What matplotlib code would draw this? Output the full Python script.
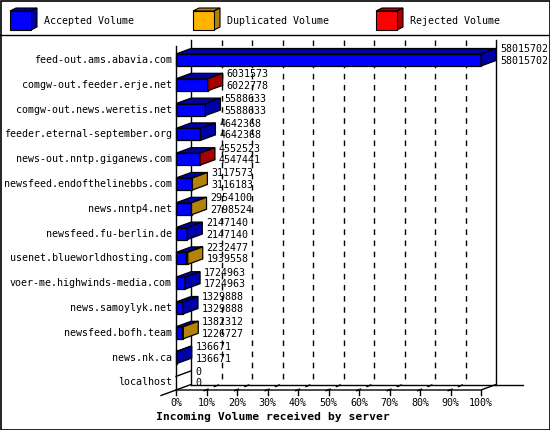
import matplotlib
matplotlib.use("Agg")
import matplotlib.pyplot as plt
from matplotlib.patches import Polygon, Rectangle

hosts = ["feed-out.ams.abavia.com", "comgw-out.feeder.erje.net",
         "comgw-out.news.weretis.net", "feeder.eternal-september.org",
         "news-out.nntp.giganews.com", "newsfeed.endofthelinebbs.com",
         "news.nntp4.net", "newsfeed.fu-berlin.de",
         "usenet.blueworldhosting.com", "voer-me.highwinds-media.com",
         "news.samoylyk.net", "newsfeed.bofh.team", "news.nk.ca", "localhost"]
offered = [58015702, 6031573, 5588633, 4642368, 4552523, 3117573, 2954100,
           2147140, 2232477, 1724963, 1329888, 1382312, 136671, 0]
accepted = [58015702, 6022778, 5588633, 4642368, 4547441, 3116183, 2798524,
            2147140, 1939558, 1724963, 1329888, 1226727, 136671, 0]
duplicated = [0, 0, 0, 0, 0, 1390, 155576, 0, 292919, 0, 0, 155585, 0, 0]
rejected = [0, 8795, 0, 0, 5082, 0, 0, 0, 0, 0, 0, 0, 0, 0]
pct_ticks = [0, 10, 20, 30, 40, 50, 60, 70, 80, 90, 100]

series = [("Accepted Volume", accepted, "#0000ff", "#0000a8"),
          ("Duplicated Volume", duplicated, "#ffb400", "#b4820a"),
          ("Rejected Volume", rejected, "#ff0000", "#a80000")]

mono = "DejaVu Sans Mono"
fs = 7.2

fig = plt.figure(figsize=(5.5, 4.3), dpi=100)

# background / frame / legend in pixel coordinates
bg = fig.add_axes([0, 0, 1, 1])
bg.set_xlim(0, 550)
bg.set_ylim(430, 0)
bg.axis("off")
bg.add_patch(Rectangle((0.5, 0.5), 549, 429, fill=False, ec="black", lw=1.2))
bg.plot([0, 550], [35, 35], color="black", lw=1)
for (lab, _, front, dark), lx in zip(series, [10, 193, 376]):
    bg.add_patch(Polygon([(lx, 11), (lx + 21, 11), (lx + 27, 8), (lx + 6, 8)],
                         fc=dark, ec="black", lw=0.8))
    bg.add_patch(Polygon([(lx + 21, 11), (lx + 27, 8), (lx + 27, 27), (lx + 21, 30)],
                         fc=dark, ec="black", lw=0.8))
    bg.add_patch(Rectangle((lx, 11), 21, 19, fc=front, ec="black", lw=0.8))
    bg.text(lx + 34, 20.5, lab, family=mono, fontsize=fs, va="center", ha="left")
bg.text(156, 417, "Incoming Volume received by server", family=mono,
        fontsize=8.2, weight="bold", va="center", ha="left")

# main chart: front plane 0..vmax, rows in index units
vmax = max(offered)
row0, row_px = 60.0, 24.8
top_px, floor_px = 40.0, 390.0
ax = fig.add_axes([176 / 550, 1 - floor_px / 430, 305 / 550, (floor_px - top_px) / 430])
ax.set_xlim(0, vmax)
y_top = (top_px - row0) / row_px
y_floor = (floor_px - row0) / row_px
ax.set_ylim(y_floor, y_top)
ax.axis("off")
ax.patch.set_visible(False)

DX = 15 / 305 * vmax
DY = 5.5 / row_px
h = 6 / row_px
y_back = y_floor - DY
kw = dict(clip_on=False, lw=1, color="black")

# back wall and grid
ax.plot([DX, DX], [y_top, y_back], **kw)
ax.plot([vmax + DX, vmax + DX], [y_top, y_back], **kw)
for p in pct_ticks[1:-1]:
    x = vmax * p / 100 + DX
    ax.plot([x, x], [y_top, y_back], ls=(0, (4, 4)), **kw)
ax.plot([DX, vmax + DX + 27 / 305 * vmax], [y_back, y_back], **kw)

# bars
for i, host in enumerate(hosts):
    x0 = 0
    last_dark = None
    for lab, vals, front, dark in series:
        v = vals[i]
        if v <= 0:
            continue
        x1 = x0 + v
        ax.add_patch(Polygon([(x0, i - h), (x1, i - h), (x1 + DX, i - h - DY), (x0 + DX, i - h - DY)],
                             fc=dark, ec="black", lw=0.9, clip_on=False, zorder=3))
        ax.add_patch(Polygon([(x0, i - h), (x1, i - h), (x1, i + h), (x0, i + h)],
                             fc=front, ec="black", lw=0.9, clip_on=False, zorder=3))
        x0 = x1
        last_dark = dark
    if last_dark is not None:
        ax.add_patch(Polygon([(x0, i - h), (x0 + DX, i - h - DY), (x0 + DX, i + h - DY), (x0, i + h)],
                             fc=last_dark, ec="black", lw=0.9, clip_on=False, zorder=3))
    else:
        ax.plot([0, DX], [i - h, i - h - DY], zorder=3, **kw)
    ax.annotate(host, (0, i), xytext=(-4, 0), textcoords="offset pixels",
                ha="right", va="center", family=mono, fontsize=fs, annotation_clip=False)
    ax.annotate(str(offered[i]), (offered[i] + DX, i), xytext=(4, 10.5),
                textcoords="offset pixels", ha="left", va="center",
                family=mono, fontsize=fs, annotation_clip=False)
    ax.annotate(str(accepted[i]), (offered[i] + DX, i), xytext=(4, -1),
                textcoords="offset pixels", ha="left", va="center",
                family=mono, fontsize=fs, annotation_clip=False)

# front axis lines and floor
ax.plot([0, 0], [y_floor, y_top + DY + 0.0], zorder=4, **kw)
ax.plot([0, vmax, vmax + DX], [y_floor, y_floor, y_back], zorder=4, **kw)
ax.plot([-DX, DX], [y_floor + DY, y_back], zorder=4, **kw)
for p in pct_ticks:
    x = vmax * p / 100
    ax.plot([x, x], [y_floor, y_floor + 5 / row_px], zorder=4, **kw)
    if 0 < p < 100:
        ax.plot([x - 3 / 305 * vmax, x + 13 / 305 * vmax], [y_floor + 1 / row_px, y_back],
                ls=(0, (4, 4)), zorder=4, **kw)
    ax.annotate(f"{p}%", (x, y_floor), xytext=(0, -13), textcoords="offset pixels",
                ha="center", va="center", family=mono, fontsize=fs, annotation_clip=False)

fig.savefig("out.png", dpi=100)
